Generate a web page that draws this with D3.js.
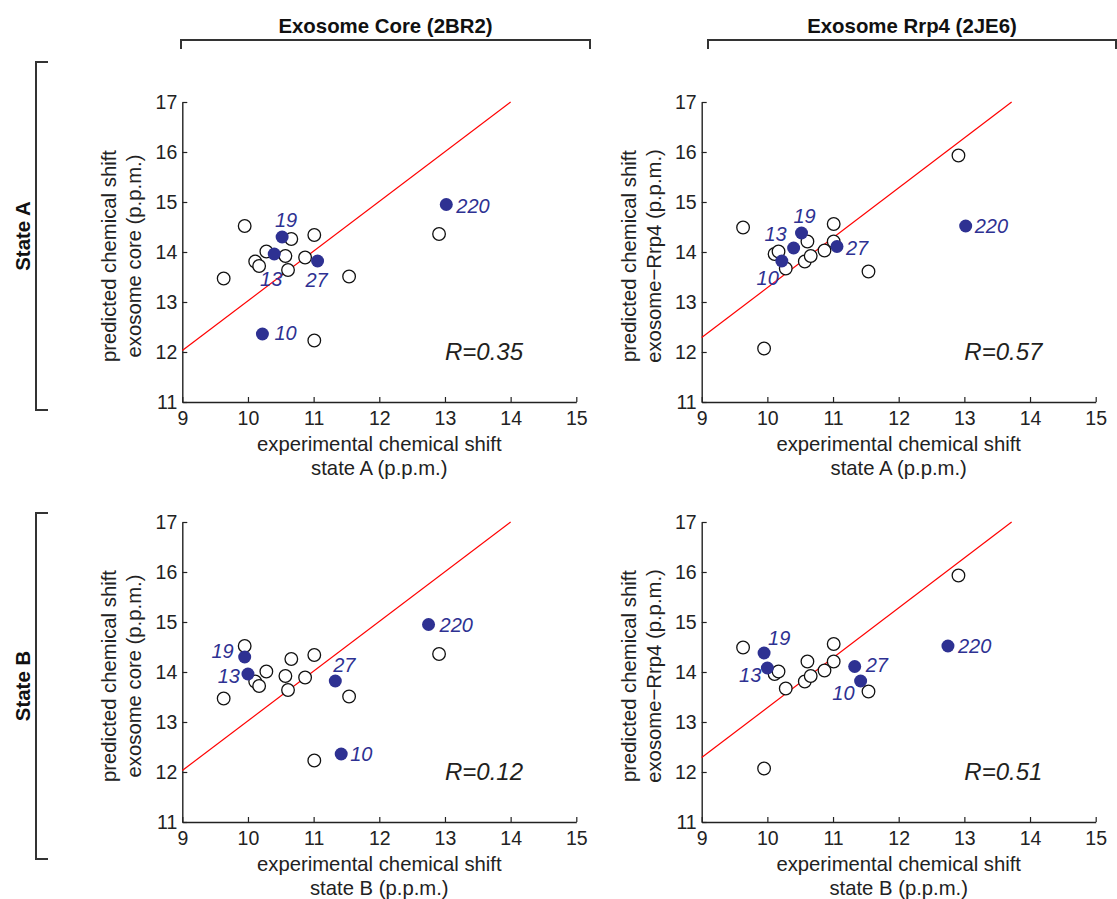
<!DOCTYPE html>
<html>
<head>
<meta charset="utf-8">
<script src="https://cdn.jsdelivr.net/npm/d3@7"></script>
<style>
  html, body { margin: 0; padding: 0; background: #fff; }
  svg { display: block; font-family: "Liberation Sans", Arial, Helvetica, sans-serif; }
</style>
</head>
<body>
<svg id="chart" width="1117" height="899"></svg>
<script>
// ---------------- data ----------------
const columnTitles = ["Exosome Core (2BR2)", "Exosome Rrp4 (2JE6)"];
const rowTitles = ["State A", "State B"];
const yTitles = [["predicted chemical shift", "exosome core (p.p.m.)"],
                 ["predicted chemical shift", "exosome\u2212Rrp4 (p.p.m.)"]];
const xTitles = [["experimental chemical shift", "state A (p.p.m.)"],
                 ["experimental chemical shift", "state B (p.p.m.)"]];
const xTicks = [9, 10, 11, 12, 13, 14, 15];
const yTicks = [11, 12, 13, 14, 15, 16, 17];

// highlighted residues
const residues = ["10", "13", "19", "27", "220"];
const expStateA = [10.22, 10.40, 10.52, 11.06, 13.02];
const expStateB = [11.42, 10.00, 9.95, 11.33, 12.75];
const predCore = [12.36, 13.96, 14.30, 13.82, 14.95];
const predRrp4 = [13.82, 14.08, 14.38, 14.11, 14.52];

// other residues (same in both states)
const expOther  = [9.63, 9.95, 10.11, 10.17, 10.28, 10.57, 10.61, 10.66, 10.87, 11.01, 11.01, 11.54, 12.91];
const coreOther = [13.47, 14.52, 13.81, 13.72, 14.01, 13.92, 13.64, 14.26, 13.89, 14.34, 12.23, 13.51, 14.36];
const rrp4Other = [14.49, 12.07, 13.96, 14.01, 13.67, 13.81, 14.21, 13.92, 14.03, 14.56, 14.21, 13.61, 15.93];

// reference lines (x, y end points)
const coreLineX = [9, 14];
const coreLineY = [12.03, 17];
const rrp4LineX = [9, 13.72];
const rrp4LineY = [12.29, 17];

// correlation coefficients [row][col]
const rValues = [["0.35", "0.57"], ["0.12", "0.51"]];

// ---------------- layout ----------------
const blue = "#2e3192";
const panelW = 394, panelH = 300;
const colX = [182.3, 701.7];
const rowY = [102, 522];

// label offsets (dx, dy, anchor) per panel
const labelLayout = {
  "0-0": {"10": [12, 6, "start"], "13": [-3, 32, "middle"], "19": [4, -10, "middle"], "27": [-1, 26, "middle"], "220": [10, 8, "start"]},
  "0-1": {"10": [-3, 24, "end"], "13": [-7, -7, "end"], "19": [3, -10, "middle"], "27": [9, 8, "start"], "220": [9, 7, "start"]},
  "1-0": {"10": [9, 7, "start"], "13": [-8, 9, "end"], "19": [-11, 1, "end"], "27": [9, -9, "middle"], "220": [11, 7, "start"]},
  "1-1": {"10": [-6, 19, "end"], "13": [-6, 14, "end"], "19": [4, -8, "start"], "27": [11, 5, "start"], "220": [10, 7, "start"]}
};

const svg = d3.select("#chart");
svg.append("rect").attr("width", 1117).attr("height", 899).attr("fill", "#fff");

// column headers with brackets
const colBrackets = [[181, 590], [708, 1116]];
colBrackets.forEach((b, i) => {
  svg.append("path")
    .attr("d", `M${b[0]},49 V40 H${b[1]} V49`)
    .attr("fill", "none").attr("stroke", "#333").attr("stroke-width", 2);
  svg.append("text")
    .attr("x", (b[0] + b[1]) / 2).attr("y", 33)
    .attr("text-anchor", "middle")
    .attr("font-size", 20.4).attr("font-weight", "bold").attr("fill", "#111")
    .text(columnTitles[i]);
});

// row headers with brackets
const rowBrackets = [[62, 410], [513, 859]];
rowBrackets.forEach((b, i) => {
  svg.append("path")
    .attr("d", `M48,${b[0]} H36 V${b[1]} H48`)
    .attr("fill", "none").attr("stroke", "#333").attr("stroke-width", 2);
  const cy = (b[0] + b[1]) / 2;
  svg.append("text")
    .attr("transform", `translate(29.5,${cy}) rotate(-90)`)
    .attr("text-anchor", "middle")
    .attr("font-size", 20.4).attr("font-weight", "bold").attr("fill", "#111")
    .text(rowTitles[i]);
});

// panels
for (let r = 0; r < 2; r++) {
  for (let c = 0; c < 2; c++) {
    const x0 = colX[c], y0 = rowY[r];
    const x = d3.scaleLinear().domain([9, 15]).range([x0, x0 + panelW]);
    const y = d3.scaleLinear().domain([11, 17]).range([y0 + panelH, y0]);
    const g = svg.append("g");

    // axes
    const xa = g.append("g").attr("transform", `translate(0,${y0 + panelH})`)
      .call(d3.axisBottom(x).tickValues(xTicks).tickFormat(d3.format("d"))
        .tickSize(-5).tickSizeOuter(0).tickPadding(9));
    const ya = g.append("g").attr("transform", `translate(${x0},0)`)
      .call(d3.axisLeft(y).tickValues(yTicks).tickFormat(d3.format("d"))
        .tickSize(-5).tickSizeOuter(0).tickPadding(5));
    [xa, ya].forEach(a => {
      a.select(".domain").attr("stroke", "#222").attr("stroke-width", 1.4);
      a.selectAll(".tick line").attr("stroke", "#222").attr("stroke-width", 1.2);
      a.selectAll(".tick text").attr("font-size", 19.5).attr("fill", "#222")
        .attr("font-family", "Liberation Sans, Arial, sans-serif");
    });

    // axis titles
    const xt = xTitles[r];
    xt.forEach((t, k) => {
      g.append("text").attr("x", x0 + panelW / 2).attr("y", y0 + panelH + 49 + k * 24)
        .attr("text-anchor", "middle").attr("font-size", 20.3).attr("fill", "#222").text(t);
    });
    const yt = yTitles[c];
    yt.forEach((t, k) => {
      g.append("text")
        .attr("transform", `translate(${x0 - 66 + k * 25},${y0 + panelH / 2 + 4}) rotate(-90)`)
        .attr("text-anchor", "middle").attr("font-size", 20.3).attr("fill", "#222").text(t);
    });

    // reference line
    const lx = c === 0 ? coreLineX : rrp4LineX;
    const ly = c === 0 ? coreLineY : rrp4LineY;
    g.append("line")
      .attr("x1", x(lx[0])).attr("y1", y(ly[0]))
      .attr("x2", x(lx[1])).attr("y2", y(ly[1]))
      .attr("stroke", "#ff0000").attr("stroke-width", 1.2);

    // other residues
    const predO = c === 0 ? coreOther : rrp4Other;
    g.selectAll("circle.open").data(expOther.map((e, i) => [e, predO[i]]))
      .enter().append("circle").attr("class", "open")
      .attr("cx", d => x(d[0])).attr("cy", d => y(d[1])).attr("r", 6.3)
      .attr("fill", "#fff").attr("stroke", "#111").attr("stroke-width", 1.3);

    // highlighted residues
    const expH = r === 0 ? expStateA : expStateB;
    const predH = c === 0 ? predCore : predRrp4;
    const hl = residues.map((res, i) => ({res, ex: expH[i], pr: predH[i]}));
    g.selectAll("circle.fill").data(hl).enter().append("circle").attr("class", "fill")
      .attr("cx", d => x(d.ex)).attr("cy", d => y(d.pr)).attr("r", 6.5)
      .attr("fill", blue);
    const lay = labelLayout[`${r}-${c}`];
    g.selectAll("text.lab").data(hl).enter().append("text").attr("class", "lab")
      .attr("x", d => x(d.ex) + lay[d.res][0])
      .attr("y", d => y(d.pr) + lay[d.res][1])
      .attr("text-anchor", d => lay[d.res][2])
      .attr("font-size", 20).attr("font-style", "italic").attr("fill", blue)
      .text(d => d.res);

    // R value
    g.append("text").attr("x", x(13.0)).attr("y", y(11.85))
      .attr("font-size", 24).attr("font-style", "italic").attr("fill", "#231f20")
      .text("R=" + rValues[r][c]);
  }
}
</script>
</body>
</html>
